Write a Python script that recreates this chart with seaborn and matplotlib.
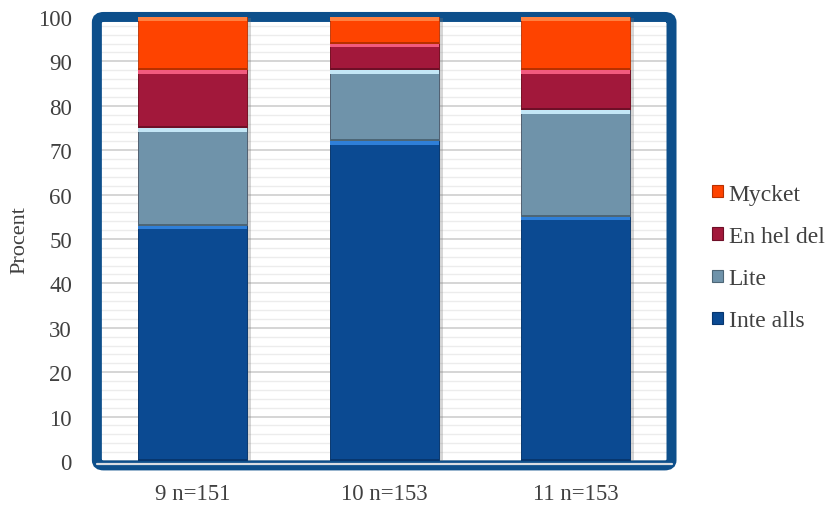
import matplotlib
matplotlib.use('Agg')
import matplotlib.pyplot as plt
import matplotlib.patheffects as pe
from matplotlib.patches import FancyBboxPatch, Patch
from matplotlib.ticker import MultipleLocator
import seaborn as sns
import pandas as pd

categories = ['9 n=151', '10 n=153', '11 n=153']
levels = ['Inte alls', 'Lite', 'En hel del', 'Mycket']
inte_alls = [53, 72, 55]
lite = [22, 16, 24]
en_hel_del = [13, 6, 9]
mycket = [12, 6, 12]

colors = {'Inte alls': '#0b4a92', 'Lite': '#6f93aa',
          'En hel del': '#a2183b', 'Mycket': '#fe4300'}
highlights = {'Inte alls': '#2f7fd8', 'Lite': '#c3e6f6',
              'En hel del': '#f25a7e', 'Mycket': '#ff8040'}
darks = {'Inte alls': '#07366e', 'Lite': '#4d6676',
         'En hel del': '#6e0f27', 'Mycket': '#b83000'}

sns.set_theme(style='white')
plt.rcParams['font.family'] = ['Liberation Serif', 'DejaVu Serif']
text_color = '#404040'

df = pd.DataFrame({'group': categories, 'Inte alls': inte_alls,
                   'Lite': lite, 'En hel del': en_hel_del,
                   'Mycket': mycket})
cum = df[levels].cumsum(axis=1)
base = cum.shift(1, axis=1).fillna(0)

fig = plt.figure(figsize=(8.28, 5.06), dpi=100)
ax = fig.add_axes([0.117, 0.087, 0.694, 0.8775])
ax.patch.set_visible(False)

# plot area background and rounded frame
ax.add_patch(FancyBboxPatch((0, -0.01), 1, 1.01,
                            boxstyle='round,pad=0,rounding_size=0.012',
                            transform=ax.transAxes, fc='white', ec='none',
                            zorder=0.1, clip_on=False))
ax.add_patch(FancyBboxPatch((0, -0.01), 1, 1.01,
                            boxstyle='round,pad=0,rounding_size=0.012',
                            transform=ax.transAxes, fc='none', ec='#0d4f8b',
                            lw=7.2, zorder=0.6, clip_on=False))
ax.axhline(-0.6, color='#d9dde2', lw=1.6, zorder=0.7, clip_on=False)

# stacked bars drawn as overlapping cumulative bars
bar_w = 0.57
for i, lev in enumerate(reversed(levels)):
    sns.barplot(x=df['group'], y=cum[lev], color=colors[lev], width=bar_w,
                saturation=1, ax=ax, zorder=2 + i, edgecolor=darks[lev],
                linewidth=0.6)

for patch in ax.patches[2:5]:
    patch.set_path_effects([pe.SimplePatchShadow(offset=(3, -1),
                                                 shadow_rgbFace='#7a7a7a',
                                                 alpha=0.3), pe.Normal()])

# bevel highlights at top and dark rim at bottom of each segment
xpos = range(len(categories))
for lev in levels:
    ax.bar(xpos, 0.8, bottom=cum[lev] - 0.8, width=bar_w,
           color=highlights[lev], zorder=10, lw=0)
    ax.bar(xpos, 0.45, bottom=base[lev], width=bar_w,
           color=darks[lev], zorder=10, lw=0)

ax.set_xlim(-0.5, 2.5)
ax.set_ylim(0, 100)
ax.yaxis.set_major_locator(MultipleLocator(10))
ax.yaxis.set_minor_locator(MultipleLocator(2))
ax.set_axisbelow(True)
ax.grid(which='major', axis='y', color='#d2d2d2', lw=1.3)
ax.grid(which='minor', axis='y', color='#ececec', lw=1.0)
for s in ax.spines.values():
    s.set_visible(False)

ax.tick_params(axis='both', which='both', length=0, labelsize=16.5,
               labelcolor=text_color)
ax.tick_params(axis='y', pad=18)
ax.tick_params(axis='x', pad=16)
ax.set_xlabel('')
ax.set_ylabel('Procent', fontsize=16, color=text_color, labelpad=6)

handles = [Patch(facecolor=colors[lev], edgecolor=darks[lev], lw=0.8,
                 label=lev) for lev in reversed(levels)]
fig.legend(handles=handles, loc='center left',
           bbox_to_anchor=(0.86, 0.489), frameon=False, fontsize=17,
           labelcolor=text_color, handlelength=0.45, handleheight=0.43,
           handletextpad=0.25, labelspacing=0.9, borderpad=0,
           borderaxespad=0)

fig.savefig('out.png', dpi=100)
